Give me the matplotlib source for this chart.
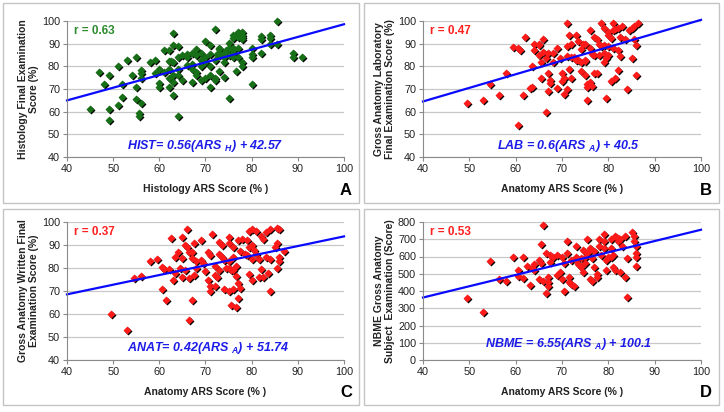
import matplotlib.pyplot as plt
from matplotlib.patches import Rectangle
from matplotlib.transforms import offset_copy

plt.rcParams['font.family'] = ['Liberation Sans', 'DejaVu Sans']
plt.rcParams['mathtext.fontset'] = 'custom'
plt.rcParams['mathtext.it'] = 'Liberation Sans:italic:bold'
plt.rcParams['mathtext.rm'] = 'Liberation Sans:bold'

# Panel A : Histology
hist_x = [45, 47, 48, 49, 49, 49, 51, 51, 52, 52, 53, 54, 55, 55, 55, 55.5, 55.5, 56, 56, 56,
          56, 58, 59, 59, 60, 60, 60, 61, 61, 62, 62, 62, 62, 62, 63, 63, 63, 63, 63, 63,
          64, 64, 64, 64, 64, 65, 65, 66, 66, 66, 67, 67, 67, 67, 68, 68, 68, 68, 69, 69,
          69, 69, 70, 70, 70, 70, 71, 71, 71, 71, 71, 72, 72, 72, 72, 73, 73, 73, 73, 73,
          74, 74, 74, 74, 75, 75, 75, 75, 76, 76, 76, 76, 76, 76.5, 77, 77, 77, 77, 78, 78,
          78, 78, 78, 80, 80, 80, 80, 82, 82, 82, 84, 84, 84, 85.5, 85.5, 89, 89, 91,
          72.5, 74.5, 76, 78, 62.5]
hist_y = [61, 77.5, 72, 76, 61, 56.5, 80, 63, 72, 66.5, 83, 76, 84, 71, 65.5, 59.5, 58, 78.5, 77, 75,
          64, 82, 83, 77, 72.5, 71, 79, 87, 77.5, 87, 82.5, 79, 75, 71, 82, 89.5, 94.5, 76, 73, 67.5,
          84, 89, 79, 76, 58, 74, 85, 84, 80.5, 85.5, 79, 73, 81, 86, 87.5, 85, 76, 77.5, 86, 83,
          80, 74, 84, 82, 75, 91, 89.5, 85.5, 80, 71, 76, 75, 74, 83, 96.5, 85, 86, 87.5, 88, 78,
          84, 86, 75.5, 82, 88, 90.5, 85, 66, 84, 87, 88, 92.5, 86, 78, 84, 88, 93, 95, 95, 93,
          92, 82, 80, 88, 85.5, 84, 72, 93.5, 92, 86, 94, 92.5, 90, 100, 90, 86, 84, 84,
          85.5, 87, 94, 94, 82.5]

# Panel B : Gross anatomy laboratory
lab_x = [49.5, 53, 54.5, 56.5, 58, 59.5, 60.5, 60.5, 61, 61.5, 62, 63, 63.5, 63.5, 64, 64, 65, 65, 65, 65.5,
         65.5, 66, 66, 66.5, 66.5, 67, 67, 67, 67.5, 67.5, 68, 68, 69, 69, 69.5, 70, 70, 70.5, 70.5, 71,
         71, 71, 71, 71.5, 71.5, 72, 72, 72.5, 73, 73, 73.5, 74, 74, 74, 74.5, 75, 75, 75, 75.5, 75.5,
         75.5, 76, 76, 76, 76.5, 76.5, 77, 77, 77.5, 77.5, 78, 78, 78.5, 78.5, 79, 79, 79, 79, 79.5, 79.5,
         80, 80, 80, 80.5, 80.5, 81, 81, 81, 81.5, 82, 82, 82, 82.5, 82.5, 83, 83.5, 84, 84.5, 85, 85,
         85.5, 85.5, 86, 86, 86.5, 72, 73.5, 75, 77, 80, 81.5]
lab_y = [64, 65, 72, 67.5, 77, 88.5, 88, 54, 87, 67.5, 93, 70.5, 71, 80, 90, 87, 89.5, 90, 85, 82,
         75, 92, 86.5, 83.5, 60, 77, 86, 69, 72.5, 74, 82, 86, 70.5, 88, 83.5, 77, 73.5, 75, 68, 99,
         89, 84.5, 70, 94, 79, 75, 90, 84, 94, 83, 91, 78, 87.5, 82, 90, 90, 82.5, 76, 72, 65,
         71, 88, 73, 96, 71.5, 85.5, 77, 93, 92, 77, 90, 85, 99, 89, 97, 89.5, 86, 82, 66, 83.5,
         94, 89, 85, 73.5, 92.5, 99, 96, 88, 75, 97, 87, 78.5, 93, 84.5, 98, 92, 70, 96, 97, 83.5,
         98, 92, 89.5, 76, 99, 84, 83, 83, 85, 95, 96.5]

# Panel C : Gross anatomy written
anat_x = [49.5, 53, 54.5, 56, 58, 59.5, 60.5, 60.5, 61, 61.5, 62, 62.5, 63, 63.5, 63.5, 64, 64.5, 65, 65, 65,
          65.5, 65.5, 66, 66, 66.5, 66.5, 66.5, 67, 67, 67, 67.5, 67.5, 68, 68, 69, 69, 69.5, 70, 70.5, 70.5,
          71, 71, 71, 71.5, 72, 72, 72, 72.5, 73, 73, 73, 73.5, 73.5, 74, 74, 74.5, 75, 75, 75, 75,
          75, 75.5, 75.5, 76, 76, 76, 76, 76.5, 76.5, 76.5, 77, 77, 77, 77.5, 77.5, 78, 78.5, 79, 79, 79.5,
          79.5, 79.5, 80, 80, 80, 80, 80.5, 81, 81, 81.5, 81.5, 82, 82, 82.5, 82.5, 83, 83, 83.5, 84, 84,
          84, 85, 85.5, 85.5, 85.5, 86, 86, 86, 87]
anat_y = [60, 53, 75.5, 76.5, 83, 84, 80.5, 71, 79.5, 66, 79.5, 93, 75, 85, 78, 87, 80, 76, 84.5, 93.5,
          90, 79, 89, 97, 87, 57.5, 75.5, 84.5, 66, 87, 91, 77, 83, 80, 92, 83.5, 82, 78.5, 87, 75,
          85.5, 70, 72, 95, 81, 77, 72, 76, 91.5, 86, 79, 90, 85, 83.5, 71, 80, 93.5, 91, 83, 80,
          70, 79, 64, 89, 85, 79, 71, 63, 81, 76.5, 92, 67, 73.5, 87.5, 71.5, 92.5, 86, 92, 85.5, 96,
          89, 77.5, 97, 90, 84, 75, 88, 96, 86, 84, 76, 94, 79.5, 92.5, 76, 95.5, 85, 78, 97, 84,
          70, 89, 97.5, 91, 80, 97, 85, 83, 87.5]

# Panel D : NBME
nbme_x = [49.5, 53, 54.5, 56.5, 58, 59.5, 60.5, 60.5, 61.5, 61.5, 62.5, 63, 63.5, 64, 64, 65, 65, 65.5, 65.5, 66,
          66, 66.5, 66.5, 67, 67, 67, 67.5, 67.5, 68, 69, 69, 69.5, 70, 70, 70.5, 70.5, 71, 71, 71.5, 71.5,
          72, 72, 72.5, 73, 73, 73.5, 74, 74, 74.5, 74.5, 75, 75, 75.5, 75.5, 76, 76, 76.5, 76.5, 77, 77,
          77.5, 77.5, 78, 78, 78.5, 79, 79, 79, 79.5, 79.5, 80, 80.5, 80.5, 81, 81, 81.5, 81.5, 82, 82, 82.5,
          83, 83.5, 83.5, 84, 84, 85, 85.5, 85.5, 86, 86, 86, 86, 73, 76, 80.5, 82.5]
nbme_y = [360, 280, 575, 470, 460, 600, 520, 485, 600, 475, 545, 435, 535, 520, 555, 580, 470, 670, 560, 785,
          460, 620, 390, 480, 450, 430, 610, 570, 600, 610, 490, 510, 600, 470, 560, 400, 690, 620, 480, 450,
          580, 440, 430, 660, 600, 555, 590, 540, 640, 510, 600, 560, 700, 620, 640, 470, 590, 460, 630, 540,
          500, 480, 700, 660, 610, 730, 690, 650, 580, 520, 600, 700, 650, 540, 610, 720, 520, 710, 690, 510,
          660, 480, 720, 590, 365, 740, 720, 690, 660, 620, 600, 545, 580, 650, 600, 700]

panels = [
    dict(x=hist_x, y=hist_y, color='#177017', rcol='#2e8b2e', r='r = 0.63', slope=0.56, icpt=42.57,
         eq=r'HIST= 0.56(ARS $_{\mathit{H}}$) + 42.57', eqx=70, eqy=45,
         xlabel='Histology ARS Score (% )', ylabel='Histology Final Examination\nScore (%)',
         ylim=(40, 100), yticks=range(40, 101, 10), letter='A'),
    dict(x=lab_x, y=lab_y, color='#ff1a1a', rcol='#ff2020', r='r = 0.47', slope=0.6, icpt=40.5,
         eq=r'LAB = 0.6(ARS $_{\mathit{A}}$) + 40.5', eqx=71.5, eqy=45,
         xlabel='Anatomy ARS Score (% )', ylabel='Gross Anatomy Laboratory\nFinal Examination Score (%)',
         ylim=(40, 100), yticks=range(40, 101, 10), letter='B'),
    dict(x=anat_x, y=anat_y, color='#ff1a1a', rcol='#ff2020', r='r = 0.37', slope=0.42, icpt=51.74,
         eq=r'ANAT= 0.42(ARS $_{\mathit{A}}$) + 51.74', eqx=70.5, eqy=45.3,
         xlabel='Anatomy ARS Score (% )', ylabel='Gross Anatomy Written Final\nExamination Score (%)',
         ylim=(40, 100), yticks=range(40, 101, 10), letter='C'),
    dict(x=nbme_x, y=nbme_y, color='#ff1a1a', rcol='#ff2020', r='r = 0.53', slope=6.55, icpt=100.1,
         eq=r'NBME = 6.55(ARS $_{\mathit{A}}$) + 100.1', eqx=71.5, eqy=47,
         xlabel='Anatomy ARS Score (% )', ylabel='NBME Gross Anatomy\nSubject  Examination (Score)',
         ylim=(0, 800), yticks=range(0, 801, 100), letter='D'),
]

W, H = 724, 412
fig = plt.figure(figsize=(W / 100, H / 100), dpi=100)

# pixel boxes: (panel frame), (axes)
frames = [(3, 3, 359, 203), (364, 3, 719, 203), (3, 209, 359, 405), (364, 209, 719, 405)]
axboxes = [(67, 21, 344, 157), (423, 21, 701, 157), (67, 222, 344, 360), (423, 222, 701, 360)]

for p, fr, ab in zip(panels, frames, axboxes):
    fig.add_artist(Rectangle((fr[0] / W, 1 - fr[3] / H), (fr[2] - fr[0]) / W, (fr[3] - fr[1]) / H,
                             transform=fig.transFigure, fill=False, edgecolor='#c4c4c4', lw=1))
    ax = fig.add_axes([ab[0] / W, 1 - ab[3] / H, (ab[2] - ab[0]) / W, (ab[3] - ab[1]) / H])
    ax.set_xlim(40, 100)
    ax.set_ylim(*p['ylim'])
    ax.set_xticks(range(40, 101, 10))
    ax.set_yticks(list(p['yticks']))
    ax.yaxis.grid(True, color='#c8c8c8', lw=0.9)
    ax.set_axisbelow(True)
    for s in ['top', 'right']:
        ax.spines[s].set_visible(False)
    for s in ['left', 'bottom']:
        ax.spines[s].set_color('#8a8a8a')
    ax.tick_params(direction='out', length=3, color='#8a8a8a', labelsize=7.8, labelcolor='#222222', pad=2)

    shadow = offset_copy(ax.transData, fig=fig, x=1, y=-1, units='dots')
    ax.plot(p['x'], p['y'], 'D', ms=3.7, color='black', mec='none', transform=shadow, clip_on=False)
    ax.plot(p['x'], p['y'], 'D', ms=3.7, color=p['color'], mec='none', clip_on=False)

    lx = [40, 100]
    ly = [p['slope'] * v + p['icpt'] for v in lx]
    ax.plot(lx, ly, color='#0a0aff', lw=1.6, clip_on=False)

    ytop = p['ylim'][1]
    yr = ytop - p['ylim'][0]
    ax.text(41.5, ytop - 0.075 * yr, p['r'], color=p['rcol'], fontsize=8.5, fontweight='bold',
            ha='left', va='center')
    ax.text(p['eqx'], p['ylim'][0] + (p['eqy'] - 40) / 60 * yr, p['eq'], color='#1c1ce8',
            fontsize=9, fontweight='bold', style='italic', ha='center', va='center')

    ax.set_xlabel(p['xlabel'], fontsize=7.5, fontweight='bold', color='#222222', labelpad=7)
    ax.set_ylabel(p['ylabel'], fontsize=7.5, fontweight='bold', color='#222222', labelpad=2)

    fig.text((fr[2] - 7) / W, 1 - (fr[3] - 5) / H, p['letter'], fontsize=12, fontweight='bold',
             ha='right', va='bottom')

fig.savefig('out.png', dpi=100)
